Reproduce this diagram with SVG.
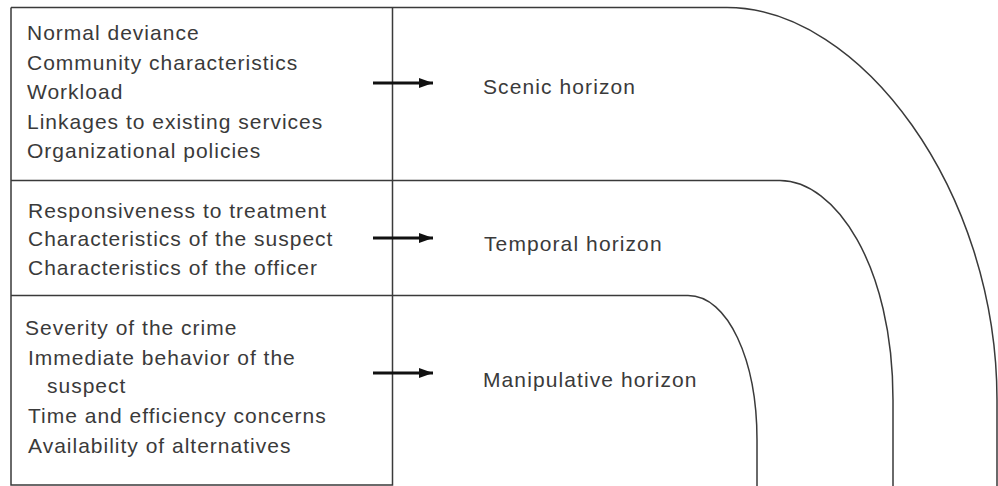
<svg xmlns="http://www.w3.org/2000/svg" width="998" height="486" viewBox="0 0 998 486">
<defs>
<style>
.ln{fill:none;stroke:#3a3a3a;stroke-width:1.5}
.t{font-family:"Liberation Sans",Arial,sans-serif;font-size:21px;letter-spacing:1px;fill:#3a3a3a}
.h{font-family:"Liberation Sans",Arial,sans-serif;font-size:21px;letter-spacing:1.1px;fill:#3a3a3a}
.ar{stroke:#111;stroke-width:3;fill:none}
</style>
<marker id="ah" markerWidth="14" markerHeight="10" refX="14" refY="5" orient="auto" markerUnits="userSpaceOnUse">
<path d="M0,0 L14,5 L0,10 Z" fill="#111"/>
</marker>
</defs>
<rect width="998" height="486" fill="#fff"/>
<g id="frame">
<path class="ln" d="M11,7.5 H727 C860,7.5 997,190 997,400 V486"/>
<path class="ln" d="M11,180.5 H780 C835,180.5 893,265 893,400 V486"/>
<path class="ln" d="M11,295.5 H688 C728,295.5 757,360 757,440 V486"/>
<path class="ln" d="M11,7.5 V485 H392.5 V7.5"/>
</g>
<g id="box-scenic">
<text class="t" x="27" y="40">Normal deviance</text>
<text class="t" x="27" y="70">Community characteristics</text>
<text class="t" x="27" y="99">Workload</text>
<text class="t" x="27" y="129">Linkages to existing services</text>
<text class="t" x="27" y="158">Organizational policies</text>
</g>
<g id="box-temporal">
<text class="t" x="28" y="218">Responsiveness to treatment</text>
<text class="t" x="28" y="246">Characteristics of the suspect</text>
<text class="t" x="28" y="275">Characteristics of the officer</text>
</g>
<g id="box-manipulative">
<text class="t" x="25" y="335">Severity of the crime</text>
<text class="t" x="28" y="365">Immediate behavior of the</text>
<text class="t" x="47" y="393">suspect</text>
<text class="t" x="28" y="423">Time and efficiency concerns</text>
<text class="t" x="28" y="453">Availability of alternatives</text>
</g>
<g id="scenic-horizon"><text class="h" x="483" y="94">Scenic horizon</text></g>
<g id="temporal-horizon"><text class="h" x="484" y="251">Temporal horizon</text></g>
<g id="manipulative-horizon"><text class="h" x="483" y="387">Manipulative horizon</text></g>
<g id="connectors">
<line class="ar" x1="373" y1="83" x2="433" y2="83" marker-end="url(#ah)"/>
<line class="ar" x1="373" y1="238" x2="433" y2="238" marker-end="url(#ah)"/>
<line class="ar" x1="373" y1="373" x2="433" y2="373" marker-end="url(#ah)"/>
</g>
</svg>
